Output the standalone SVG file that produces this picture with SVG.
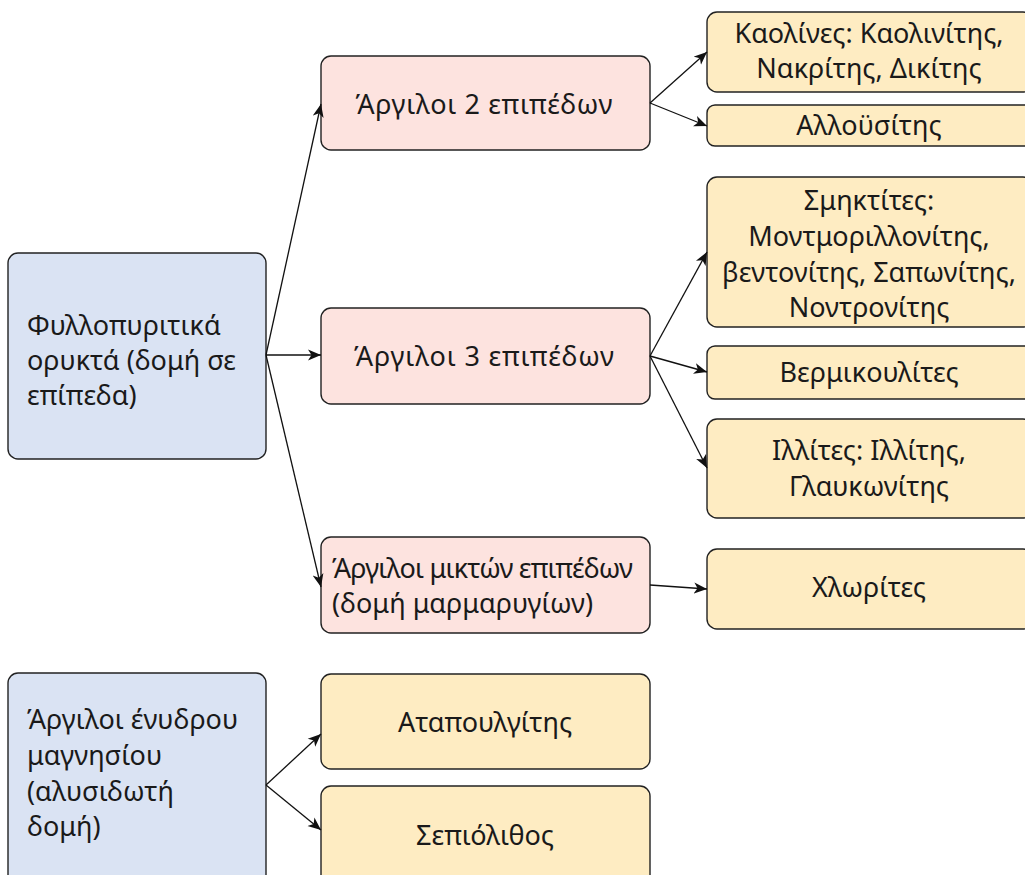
<svg xmlns="http://www.w3.org/2000/svg" width="1025" height="875" viewBox="0 0 1025 875">
<style>
.box{stroke:#222;stroke-width:1.4}
.blue{fill:#dae3f3}
.pink{fill:#fde3df}
.yel{fill:#feecc2}
text{font-family:"Noto Sans","DejaVu Sans",sans-serif;font-size:27px;fill:#1a1a1a}
.c{text-anchor:middle}
.edge{stroke:#111;stroke-width:1.3;fill:none;marker-end:url(#arr)}
</style>
<defs>
<marker id="arr" markerUnits="userSpaceOnUse" markerWidth="14" markerHeight="12" viewBox="0 0 14 12" refX="13" refY="6" orient="auto">
<path d="M0,0.5 L13,6 L0,11.5 L3.5,6 z" fill="#111"/>
</marker>
</defs>
<rect width="1025" height="875" fill="#fff"/>
<g id="n-fyllo"><rect class="box blue" x="8" y="253" width="258" height="206" rx="10"/>
<text x="27" y="335">Φυλλοπυριτικά</text><text x="27" y="370">ορυκτά (δομή σε</text><text x="27" y="405">επίπεδα)</text></g>
<g id="n-arg2"><rect class="box pink" x="321" y="56" width="329" height="94" rx="10"/><text class="c" x="484" y="114" textLength="257">Άργιλοι 2 επιπέδων</text></g>
<g id="n-arg3"><rect class="box pink" x="321" y="308" width="329" height="96" rx="10"/><text class="c" x="484" y="366" textLength="260">Άργιλοι 3 επιπέδων</text></g>
<g id="n-argm"><rect class="box pink" x="321" y="537" width="329" height="96" rx="10"/><text x="332" y="578" textLength="301">Άργιλοι μικτών επιπέδων</text><text x="332" y="613">(δομή μαρμαρυγίων)</text></g>
<g id="n-kaol"><rect class="box yel" x="707" y="12" width="326" height="80" rx="10"/><text class="c" x="869" y="43">Καολίνες: Καολινίτης,</text><text class="c" x="869" y="78">Νακρίτης, Δικίτης</text></g>
<g id="n-allo"><rect class="box yel" x="707" y="105" width="326" height="41" rx="8"/><text class="c" x="869" y="135">Αλλοϋσίτης</text></g>
<g id="n-smek"><rect class="box yel" x="707" y="177" width="326" height="150" rx="10"/><text class="c" x="869" y="210">Σμηκτίτες:</text><text class="c" x="869" y="246">Μοντμοριλλονίτης,</text><text class="c" x="869" y="282">βεντονίτης, Σαπωνίτης,</text><text class="c" x="869" y="317">Νοντρονίτης</text></g>
<g id="n-verm"><rect class="box yel" x="707" y="346" width="326" height="53" rx="8"/><text class="c" x="869" y="382">Βερμικουλίτες</text></g>
<g id="n-illi"><rect class="box yel" x="707" y="419" width="326" height="99" rx="10"/><text class="c" x="869" y="460">Ιλλίτες: Ιλλίτης,</text><text class="c" x="869" y="496">Γλαυκωνίτης</text></g>
<g id="n-chlo"><rect class="box yel" x="707" y="549" width="326" height="80" rx="10"/><text class="c" x="869" y="597">Χλωρίτες</text></g>
<g id="n-magn"><rect class="box blue" x="8" y="673" width="258" height="230" rx="10"/>
<text x="27" y="729">Άργιλοι ένυδρου</text><text x="27" y="765">μαγνησίου</text><text x="27" y="801">(αλυσιδωτή</text><text x="27" y="836">δομή)</text></g>
<g id="n-atap"><rect class="box yel" x="321" y="674" width="329" height="95" rx="10"/><text class="c" x="485" y="732">Αταπουλγίτης</text></g>
<g id="n-sepi"><rect class="box yel" x="321" y="786" width="329" height="110" rx="10"/><text class="c" x="485" y="845">Σεπιόλιθος</text></g>
<g id="edges">
<path class="edge" d="M266,355 L321,104"/>
<path class="edge" d="M266,355 L321,355"/>
<path class="edge" d="M266,355 L321,587"/>
<path class="edge" d="M650,103 L707,52"/>
<path class="edge" d="M650,103 L707,126"/>
<path class="edge" d="M650,356 L707,252"/>
<path class="edge" d="M650,356 L707,372"/>
<path class="edge" d="M650,356 L707,468"/>
<path class="edge" d="M650,585 L707,589"/>
<path class="edge" d="M266,785 L321,734"/>
<path class="edge" d="M266,785 L321,830"/>
</g>
</svg>
